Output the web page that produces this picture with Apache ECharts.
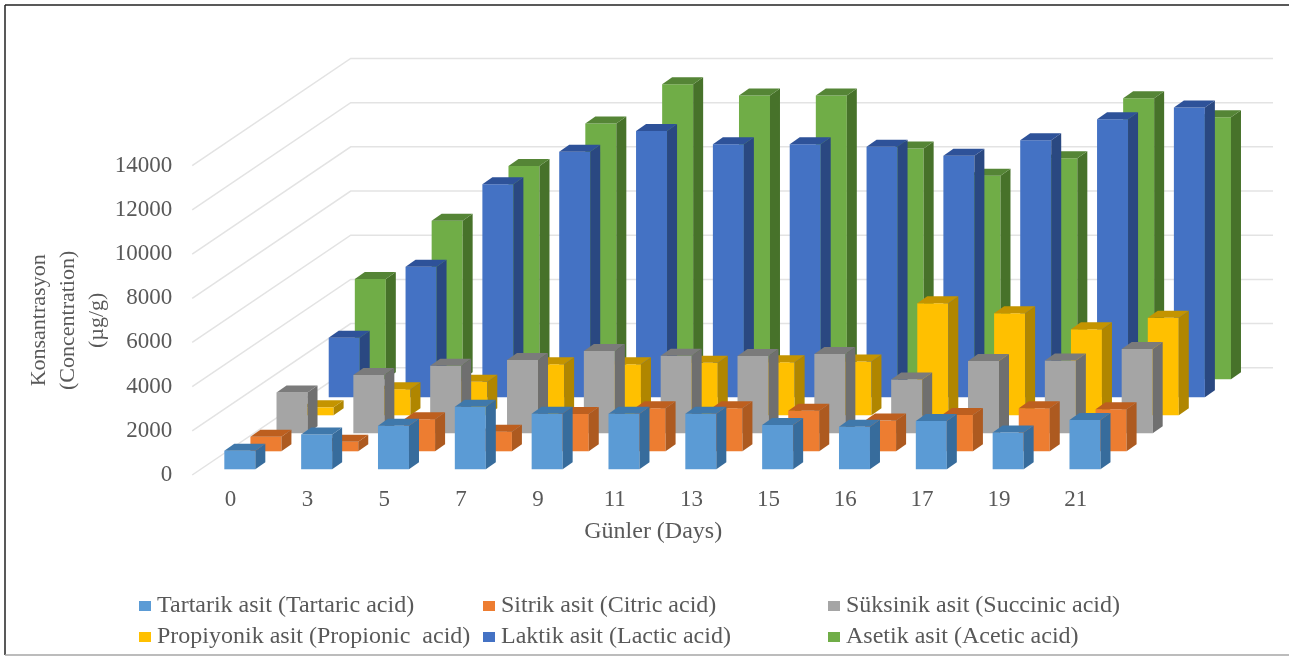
<!DOCTYPE html>
<html>
<head>
<meta charset="utf-8">
<script src="https://cdn.jsdelivr.net/npm/echarts@6/dist/echarts.min.js"></script>
<style>
  html, body { margin: 0; padding: 0; background: #fff; }
  #chart { width: 1289px; height: 657px; }
</style>
</head>
<body>
<div id="chart"></div>
<script>
const days = ['0', '3', '5', '7', '9', '11', '13', '15', '16', '17', '19', '21'];
const gridValues = [0, 2000, 4000, 6000, 8000, 10000, 12000, 14000];

const tartaric = [840, 1580, 1970, 2830, 2520, 2520, 2520, 2000, 1930, 2190, 1670, 2230];
const citric = [660, 430, 1450, 890, 1690, 1950, 1950, 1840, 1390, 1640, 1950, 1900];
const succinic = [1850, 2640, 3060, 3320, 3720, 3510, 3500, 3590, 2440, 3270, 3300, 3820];
const propionic = [360, 1180, 1520, 2310, 2310, 2380, 2400, 2430, 5070, 4620, 3890, 4420];
const lactic = [2700, 5910, 9640, 11110, 12050, 11450, 11450, 11340, 10930, 11640, 12580, 13120];
const acetic = [4540, 7180, 9650, 11580, 13360, 12850, 12850, 10450, 9210, 10000, 12720, 11860];

const seriesNames = [
  'Tartarik asit (Tartaric acid)',
  'Sitrik asit (Citric acid)',
  'Süksinik asit (Succinic acid)',
  'Propiyonik asit (Propionic  acid)',
  'Laktik asit (Lactic acid)',
  'Asetik asit (Acetic acid)'
];
const seriesValues = [tartaric, citric, succinic, propionic, lactic, acetic];
const frontColors = ['#5b9bd5', '#ed7d31', '#a5a5a5', '#ffc000', '#4472c4', '#70ad47'];
const sideColors = ['#376c9c', '#ad5a20', '#6f6f6f', '#b08600', '#2a4881', '#47722a'];
const topColors = ['#3f78ab', '#bd5f1f', '#7b7b7b', '#c49400', '#2e5299', '#558536'];

// fake 3d: each series sits further back on the floor
const barWidth = 31;
const capX = 10, capY = 7;
const firstX = -6.3, firstY = -5.7;
const stepX = 26.1, stepY = -18;
const wallX = 158.5, wallY = -107.2, wallEnd = 1273;

function barRenderer(row) {
  return function (params, api) {
    const i = api.value(0);
    const base = api.coord([i, 0]);
    const head = api.coord([i, api.value(1)]);
    const x0 = base[0] + firstX + stepX * row;
    const x1 = x0 + barWidth;
    const y0 = base[1] + firstY + stepY * row;
    const y1 = y0 + (head[1] - base[1]);
    return {
      type: 'group',
      children: [
        { type: 'polygon', shape: { points: [[x0, y1], [x1, y1], [x1, y0], [x0, y0]] }, style: { fill: frontColors[row] } },
        { type: 'polygon', shape: { points: [[x1, y1], [x1 + capX, y1 - capY], [x1 + capX, y0 - capY], [x1, y0]] }, style: { fill: sideColors[row] } },
        { type: 'polygon', shape: { points: [[x0, y1], [x0 + capX, y1 - capY], [x1 + capX, y1 - capY], [x1, y1]] }, style: { fill: topColors[row] } }
      ]
    };
  };
}

function wallRenderer(params, api) {
  const y = api.coord([0, api.value(0)])[1];
  const x = params.coordSys.x;
  return {
    type: 'polyline',
    shape: { points: [[x, y], [x + wallX, y + wallY], [wallEnd, y + wallY]] },
    style: { fill: 'none', stroke: '#e3e3e3', lineWidth: 1.5 }
  };
}

const legendSpots = [[139, 594], [483, 594], [828, 594], [139, 625], [483, 625], [828, 625]];
const legendOption = seriesNames.map((name, k) => ({
  data: [name],
  left: legendSpots[k][0],
  top: legendSpots[k][1],
  padding: 0,
  icon: 'rect',
  itemWidth: 12,
  itemHeight: 10,
  itemGap: 0,
  textStyle: { fontFamily: 'Liberation Serif', fontSize: 24, color: '#595959', padding: [0, 0, 0, 1] }
}));

const barSeries = seriesNames.map((name, row) => ({
  name: name,
  type: 'custom',
  z: 10 - row,
  renderItem: barRenderer(row),
  itemStyle: { color: frontColors[row] },
  encode: { x: 0, y: 1 },
  data: seriesValues[row].map((v, i) => [i, v])
}));

const chart = echarts.init(document.getElementById('chart'));
chart.setOption({
  animation: false,
  backgroundColor: '#fff',
  grid: { left: 192.2, top: 165.7, width: 922, height: 309.3 },
  legend: legendOption,
  xAxis: {
    type: 'category',
    data: days,
    name: 'Günler (Days)',
    nameLocation: 'middle',
    nameGap: 45,
    nameTextStyle: { fontFamily: 'Liberation Serif', fontSize: 24, color: '#595959' },
    axisLine: { show: false },
    axisTick: { show: false },
    axisLabel: { margin: 13, fontFamily: 'Liberation Serif', fontSize: 23, color: '#595959' }
  },
  yAxis: {
    type: 'value',
    min: 0,
    max: 14000,
    interval: 2000,
    name: 'Konsantrasyon\n(Concentration)\n(µg/g)',
    nameLocation: 'middle',
    nameGap: 80,
    nameMoveOverlap: false,
    nameTextStyle: { fontFamily: 'Liberation Serif', fontSize: 22, color: '#595959', lineHeight: 29 },
    axisLine: { show: false },
    axisTick: { show: false },
    splitLine: { show: false },
    axisLabel: {
      margin: 20,
      fontFamily: 'Liberation Serif',
      fontSize: 23,
      color: '#595959',
      formatter: v => String(v)
    }
  },
  graphic: [
    { type: 'line', shape: { x1: 5, y1: 5, x2: 1289, y2: 5 }, style: { stroke: '#222', lineWidth: 1.5 } },
    { type: 'line', shape: { x1: 5, y1: 5, x2: 5, y2: 655 }, style: { stroke: '#222', lineWidth: 1.5 } },
    { type: 'line', shape: { x1: 5, y1: 655, x2: 1289, y2: 655 }, style: { stroke: '#a6a6a6', lineWidth: 1.5 } }
  ],
  series: [{
    type: 'custom',
    z: 1,
    silent: true,
    renderItem: wallRenderer,
    encode: { y: 0 },
    data: gridValues.map(v => [v])
  }].concat(barSeries)
});
</script>
</body>
</html>
